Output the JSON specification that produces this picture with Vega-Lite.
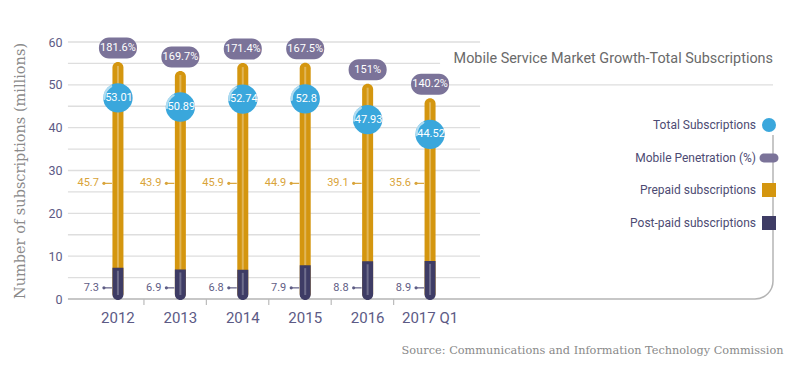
{
  "$schema": "https://vega.github.io/schema/vega-lite/v6.json",
  "width": 705,
  "height": 257,
  "autosize": "none",
  "padding": {"left": 68, "top": 42, "right": 27, "bottom": 66},
  "background": "white",
  "config": {"view": {"stroke": null}, "font": "Roboto"},
  "title": {
    "text": "Mobile Service Market Growth-Total Subscriptions",
    "anchor": "end",
    "frame": "group",
    "offset": -30,
    "font": "Roboto",
    "fontSize": 14.4,
    "fontWeight": "normal",
    "color": "#6a6a6a"
  },
  "datasets": {
    "grid": [{"v": 5}, {"v": 10}, {"v": 15}, {"v": 20}, {"v": 25}, {"v": 30}, {"v": 35}, {"v": 40}, {"v": 45}, {"v": 60}],
    "one": [{}]
  },
  "data": {
    "values": [
      {"year": "2012", "prepaid": 45.7, "postpaid": 7.3, "total": 53.01, "penetration": 1.816},
      {"year": "2013", "prepaid": 43.9, "postpaid": 6.9, "total": 50.89, "penetration": 1.697},
      {"year": "2014", "prepaid": 45.9, "postpaid": 6.8, "total": 52.74, "penetration": 1.714},
      {"year": "2015", "prepaid": 44.9, "postpaid": 7.9, "total": 52.8, "penetration": 1.675},
      {"year": "2016", "prepaid": 39.1, "postpaid": 8.8, "total": 47.93, "penetration": 1.51},
      {"year": "2017 Q1", "prepaid": 35.6, "postpaid": 8.9, "total": 44.52, "penetration": 1.402}
    ]
  },
  "layer": [
    {
      "data": {"name": "grid"},
      "mark": {"type": "rule", "color": "#dedede", "strokeWidth": 1.3, "xOffset": -50, "x2Offset": 50},
      "encoding": {
        "x": {"datum": "2012", "type": "nominal"},
        "x2": {"datum": "2017 Q1"},
        "y": {"field": "v", "type": "quantitative"}
      }
    },
    {
      "data": {"name": "one"},
      "mark": {"type": "rule", "color": "#dedede", "strokeWidth": 1.3, "xOffset": -50, "x2Offset": 10},
      "encoding": {
        "x": {"datum": "2012", "type": "nominal"},
        "x2": {"datum": "2017 Q1"},
        "y": {"datum": 55, "type": "quantitative"}
      }
    },
    {
      "data": {"name": "one"},
      "mark": {"type": "rule", "color": "#dedede", "strokeWidth": 1.3, "xOffset": -50},
      "encoding": {
        "x": {"datum": "2012", "type": "nominal"},
        "x2": {"value": "width"},
        "y": {"datum": 50, "type": "quantitative"}
      }
    },
    {
      "data": {"name": "one"},
      "mark": {"type": "rule", "color": "#b4b4b4", "strokeWidth": 1.5, "xOffset": -50, "x2Offset": -18},
      "encoding": {
        "x": {"datum": "2012", "type": "nominal"},
        "x2": {"value": "width"},
        "y": {"datum": 0, "type": "quantitative"}
      }
    },
    {
      "data": {"name": "one"},
      "mark": {"type": "rule", "color": "#b4b4b4", "strokeWidth": 1.5, "yOffset": -18},
      "encoding": {
        "x": {"value": "width"},
        "y": {"datum": 0, "type": "quantitative"},
        "y2": {"datum": 38.3}
      }
    },
    {
      "data": {"name": "one"},
      "mark": {"type": "point", "filled": false, "fill": null, "stroke": "#b4b4b4", "strokeWidth": 1.5, "opacity": 1, "size": 1296, "shape": "M -1 0 A 1 1 0 0 0 0 -1"},
      "encoding": {
        "x": {"value": "width"},
        "y": {"datum": 0, "type": "quantitative"}
      }
    },
    {
      "transform": [{"filter": "datum.year !== '2017 Q1'"}],
      "mark": {"type": "rule", "color": "#bbbbbb", "strokeWidth": 1.2, "xOffset": 26, "y2Offset": 6},
      "encoding": {
        "x": {"field": "year", "type": "nominal"},
        "y": {"datum": 0, "type": "quantitative"},
        "y2": {"datum": 0}
      }
    },
    {
      "mark": {"type": "bar", "width": 11, "cornerRadius": 5.5, "yOffset": -10},
      "encoding": {
        "x": {
          "field": "year",
          "type": "nominal",
          "scale": {"domain": ["2012", "2013", "2014", "2015", "2016", "2017 Q1"], "range": [0, 412], "paddingInner": 0, "paddingOuter": 0.3},
          "axis": {
            "title": "Source: Communications and Information Technology Commission",
            "titleFont": "DejaVu Serif",
            "titleFontSize": 11.3,
            "titleFontWeight": "normal",
            "titleColor": "#8a8a8a",
            "titleX": 715,
            "titleY": 54,
            "titleAlign": "right",
            "titleBaseline": "alphabetic",
            "labelAngle": 0,
            "labelAlign": "center",
            "labelBaseline": "middle",
            "labelFont": "Roboto",
            "labelFontSize": 15,
            "labelColor": "#5c5a85",
            "labelPadding": 18,
            "ticks": false,
            "domain": false,
            "grid": false
          }
        },
        "y": {
          "field": "total",
          "type": "quantitative",
          "scale": {"domain": [0, 60], "nice": false},
          "axis": {
            "title": "Number of subscriptions (millions)",
            "titleFont": "DejaVu Serif",
            "titleFontSize": 14.5,
            "titleFontWeight": "normal",
            "titleColor": "#8a8a8a",
            "titlePadding": 20,
            "values": [0, 5, 10, 15, 20, 25, 30, 35, 40, 45, 50, 55, 60],
            "grid": false,
            "domain": false,
            "ticks": false,
            "labelFont": "Roboto",
            "labelFontSize": 12.5,
            "labelColor": "#5c5a85",
            "labelPadding": 6
          }
        },
        "y2": {"datum": 0},
        "color": {
          "datum": "Prepaid subscriptions",
          "scale": {
            "domain": ["Total Subscriptions", "Mobile Penetration (%)", "Prepaid subscriptions", "Post-paid subscriptions"],
            "range": ["#3aa7dc", "#7b7399", "#d4960f", "#3e3c65"]
          },
          "legend": {
            "title": null,
            "orient": "none",
            "legendX": 694,
            "legendY": 76,
            "direction": "vertical",
            "labelAlign": "right",
            "labelOffset": -20,
            "labelFont": "Roboto",
            "labelFontSize": 12,
            "labelColor": "#4d4b73",
            "labelLimit": 300,
            "symbolSize": 196,
            "symbolStrokeWidth": 0,
            "rowPadding": 19,
            "padding": 0,
            "encode": {
              "symbols": {
                "update": {
                  "shape": {"signal": "datum.value === 'Total Subscriptions' ? 'circle' : datum.value === 'Mobile Penetration (%)' ? 'M -0.72 -0.64 L 0.72 -0.64 A 0.64 0.64 0 0 1 0.72 0.64 L -0.72 0.64 A 0.64 0.64 0 0 1 -0.72 -0.64 Z' : 'square'"},
                  "opacity": {"value": 1}
                }
              }
            }
          }
        }
      }
    },
    {
      "mark": {"type": "rule", "color": "#ffffff", "opacity": 0.3, "strokeWidth": 2, "yOffset": -6},
      "encoding": {
        "x": {"field": "year", "type": "nominal"},
        "y": {"field": "total", "type": "quantitative"},
        "y2": {"field": "postpaid"}
      }
    },
    {
      "mark": {"type": "bar", "width": 11, "cornerRadiusBottomLeft": 5.5, "cornerRadiusBottomRight": 5.5, "y2Offset": 1},
      "encoding": {
        "x": {"field": "year", "type": "nominal"},
        "y": {"field": "postpaid", "type": "quantitative"},
        "y2": {"datum": 0},
        "color": {"datum": "Post-paid subscriptions"}
      }
    },
    {
      "mark": {"type": "rule", "color": "#ffffff", "opacity": 0.25, "strokeWidth": 2, "yOffset": 3, "y2Offset": -4},
      "encoding": {
        "x": {"field": "year", "type": "nominal"},
        "y": {"field": "postpaid", "type": "quantitative"},
        "y2": {"datum": 0}
      }
    },
    {
      "mark": {"type": "text", "align": "right", "baseline": "middle", "dx": -19, "fontSize": 11, "color": "#d9a43a"},
      "encoding": {
        "x": {"field": "year", "type": "nominal"},
        "y": {"datum": 27, "type": "quantitative"},
        "text": {"field": "prepaid", "type": "quantitative"}
      }
    },
    {
      "mark": {"type": "rule", "color": "#d9a43a", "strokeWidth": 1.2, "xOffset": -14, "x2Offset": -6},
      "encoding": {
        "x": {"field": "year", "type": "nominal"},
        "x2": {"field": "year"},
        "y": {"datum": 27, "type": "quantitative"}
      }
    },
    {
      "mark": {"type": "point", "filled": true, "opacity": 1, "size": 10, "color": "#d9a43a", "xOffset": -14},
      "encoding": {
        "x": {"field": "year", "type": "nominal"},
        "y": {"datum": 27, "type": "quantitative"}
      }
    },
    {
      "mark": {"type": "text", "align": "right", "baseline": "middle", "dx": -19, "fontSize": 11, "color": "#5f5d85"},
      "encoding": {
        "x": {"field": "year", "type": "nominal"},
        "y": {"datum": 2.6, "type": "quantitative"},
        "text": {"field": "postpaid", "type": "quantitative"}
      }
    },
    {
      "mark": {"type": "rule", "color": "#5f5d85", "strokeWidth": 1.2, "xOffset": -14, "x2Offset": -6},
      "encoding": {
        "x": {"field": "year", "type": "nominal"},
        "x2": {"field": "year"},
        "y": {"datum": 2.6, "type": "quantitative"}
      }
    },
    {
      "mark": {"type": "point", "filled": true, "opacity": 1, "size": 10, "color": "#5f5d85", "xOffset": -14},
      "encoding": {
        "x": {"field": "year", "type": "nominal"},
        "y": {"datum": 2.6, "type": "quantitative"}
      }
    },
    {
      "mark": {"type": "bar", "width": 38, "cornerRadius": 10, "yOffset": -34.5, "y2Offset": -13.5},
      "encoding": {
        "x": {"field": "year", "type": "nominal"},
        "y": {"field": "total", "type": "quantitative"},
        "y2": {"field": "total"},
        "color": {"datum": "Mobile Penetration (%)"}
      }
    },
    {
      "mark": {"type": "text", "baseline": "middle", "fontSize": 11, "color": "#ffffff", "yOffset": -24},
      "encoding": {
        "x": {"field": "year", "type": "nominal"},
        "y": {"field": "total", "type": "quantitative"},
        "text": {"field": "penetration", "type": "quantitative", "format": ".4~%"}
      }
    },
    {
      "mark": {"type": "point", "filled": true, "opacity": 1, "size": 860, "yOffset": 26, "shape": "circle"},
      "encoding": {
        "x": {"field": "year", "type": "nominal"},
        "y": {"field": "total", "type": "quantitative"},
        "color": {"datum": "Total Subscriptions"}
      }
    },
    {
      "mark": {"type": "point", "filled": false, "fill": null, "stroke": "#ffffff", "strokeWidth": 2.2, "strokeCap": "round", "opacity": 0.6, "size": 1024, "yOffset": 26, "shape": "M -0.84 0.06 A 0.84 0.84 0 0 1 -0.42 -0.73"},
      "encoding": {
        "x": {"field": "year", "type": "nominal"},
        "y": {"field": "total", "type": "quantitative"}
      }
    },
    {
      "mark": {"type": "text", "baseline": "middle", "fontSize": 11, "color": "#ffffff", "yOffset": 26, "dx": 1},
      "encoding": {
        "x": {"field": "year", "type": "nominal"},
        "y": {"field": "total", "type": "quantitative"},
        "text": {"field": "total", "type": "quantitative"}
      }
    }
  ]
}
